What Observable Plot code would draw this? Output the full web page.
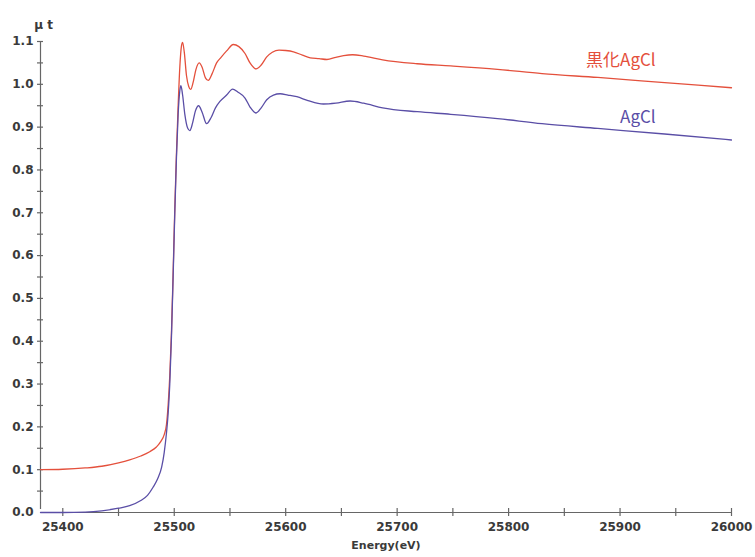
<!DOCTYPE html>
<html><head><meta charset="utf-8">
<script src="https://cdn.jsdelivr.net/npm/d3@7"></script>
<script src="https://cdn.jsdelivr.net/npm/@observablehq/plot@0.6"></script>
<style>body{margin:0;background:#fff} svg{display:block}</style>
</head><body><div id="chart"></div>
<script>
// Series names
const seriesNames = ["黒化AgCl", "AgCl"];

// 黒化AgCl (red) — energy (eV) and μt
const energyRed = [25380,25400,25420,25435,25450,25460,25470,25478,25484,25488,25491,25493,25494.5,25496,25497.5,25499,25500.5,25502,25503.5,25505,25506.5,25507.5,25509,25511,25513,25514.7,25517,25519.5,25522.4,25525,25528,25530.5,25534,25538,25542,25547,25553,25558,25563.5,25568,25573.4,25578,25583,25588,25594,25600,25607,25615,25622,25630,25637,25645,25652,25660,25670,25687,25718,25748,25790,25830,25880,25940,26000];
const muRed = [0.100,0.101,0.104,0.108,0.116,0.123,0.132,0.142,0.153,0.166,0.182,0.205,0.25,0.32,0.42,0.56,0.71,0.84,0.95,1.04,1.09,1.098,1.075,1.02,0.995,0.988,1.005,1.035,1.050,1.040,1.015,1.009,1.025,1.050,1.063,1.078,1.093,1.088,1.072,1.050,1.036,1.045,1.064,1.075,1.080,1.079,1.076,1.068,1.062,1.060,1.058,1.063,1.067,1.069,1.066,1.057,1.048,1.043,1.035,1.025,1.016,1.004,0.992];

// AgCl (blue)
const energyBlue = [25380,25400,25420,25435,25450,25460,25470,25476,25481,25485,25488.7,25491,25493,25494.5,25496,25497.5,25499,25500.5,25502,25503.5,25505,25506,25507.5,25509.5,25512,25514,25516.5,25519,25521.9,25525,25529,25533,25537,25541,25547,25552.4,25557,25563.5,25568,25573.4,25578,25583,25589,25595,25602,25610,25620,25633.8,25645,25657.8,25670,25687,25718,25748,25790,25830,25880,25940,26000];
const muBlue = [0.000,0.000,0.001,0.004,0.010,0.016,0.028,0.040,0.059,0.078,0.106,0.140,0.185,0.23,0.30,0.41,0.55,0.70,0.83,0.93,0.985,0.997,0.975,0.93,0.898,0.892,0.910,0.938,0.950,0.935,0.908,0.922,0.945,0.960,0.975,0.989,0.982,0.968,0.947,0.933,0.945,0.964,0.975,0.978,0.975,0.971,0.962,0.954,0.956,0.961,0.956,0.945,0.936,0.930,0.920,0.908,0.897,0.884,0.870];

// Axis ticks
const xDomain = [25380, 26000];
const yDomain = [0, 1.1];
const xLabelTicks = [25400,25500,25600,25700,25800,25900,26000];
const xAllTicks = [25400,25450,25500,25550,25600,25650,25700,25750,25800,25850,25900,25950,26000];
const yLabelTicks = [0.0,0.1,0.2,0.3,0.4,0.5,0.6,0.7,0.8,0.9,1.0,1.1];
const yAllTicks = [0.05,0.1,0.15,0.2,0.25,0.3,0.35,0.4,0.45,0.5,0.55,0.6,0.65,0.7,0.75,0.8,0.85,0.9,0.95,1.0,1.05,1.1];

const RED = "#e4503c", BLUE = "#5a4ea6", AXIS = "#666", TXT = "#3a3a3a";
const redData = energyRed.map((E, i) => ({E, mu: muRed[i]}));
const blueData = energyBlue.map((E, i) => ({E, mu: muBlue[i]}));

const chart = Plot.plot({
  width: 755, height: 557,
  marginLeft: 40, marginRight: 24, marginTop: 41, marginBottom: 45,
  style: {background: "#fff", fontFamily: "DejaVu Sans"},
  x: {domain: xDomain, axis: null},
  y: {domain: yDomain, axis: null},
  marks: [
    // axis lines
    Plot.ruleY([yDomain[0]], {stroke: AXIS, strokeWidth: 1.2}),
    Plot.ruleX([xDomain[0]], {y1: yDomain[0], y2: yDomain[1], insetTop: -3, stroke: AXIS, strokeWidth: 1.2}),
    // crossing ticks
    Plot.ruleX(xAllTicks, {y1: yDomain[0], y2: yDomain[0], insetTop: -4, insetBottom: -4, stroke: AXIS, strokeWidth: 1.2}),
    Plot.ruleY(yAllTicks, {x1: xDomain[0], x2: xDomain[0], insetLeft: -3, insetRight: -3, stroke: AXIS, strokeWidth: 1.2}),
    // tick labels
    Plot.axisX(xLabelTicks, {tickSize: 0, tickPadding: 10, fontSize: 12, fontWeight: "bold", fill: TXT, label: null, tickFormat: d => String(d)}),
    Plot.axisY(yLabelTicks, {tickSize: 0, tickPadding: 7, fontSize: 12, fontWeight: "bold", fill: TXT, label: null, tickFormat: d => d.toFixed(1)}),
    // axis titles
    Plot.text(["Energy(eV)"], {frameAnchor: "bottom", dy: 36, fontSize: 11, fontWeight: "bold", fill: TXT}),
    Plot.text(["μ t"], {frameAnchor: "top-left", dx: 3, dy: -21, fontSize: 12, fontWeight: "bold", fill: TXT, textAnchor: "middle"}),
    // curves
    Plot.line(redData, {x: "E", y: "mu", stroke: RED, strokeWidth: 1.3, curve: "monotone-x"}),
    Plot.line(blueData, {x: "E", y: "mu", stroke: BLUE, strokeWidth: 1.3, curve: "monotone-x"}),
    // series labels
    Plot.text([seriesNames[0]], {x: 25932, y: 1.056, text: d => d, textAnchor: "end", fontSize: 17, fill: RED, fontFamily: "Noto Sans CJK JP"}),
    Plot.text([seriesNames[1]], {x: 25932, y: 0.922, text: d => d, textAnchor: "end", fontSize: 17, fill: BLUE, fontFamily: "Noto Sans CJK JP"})
  ]
});
document.getElementById("chart").appendChild(chart);
</script>
</body></html>
